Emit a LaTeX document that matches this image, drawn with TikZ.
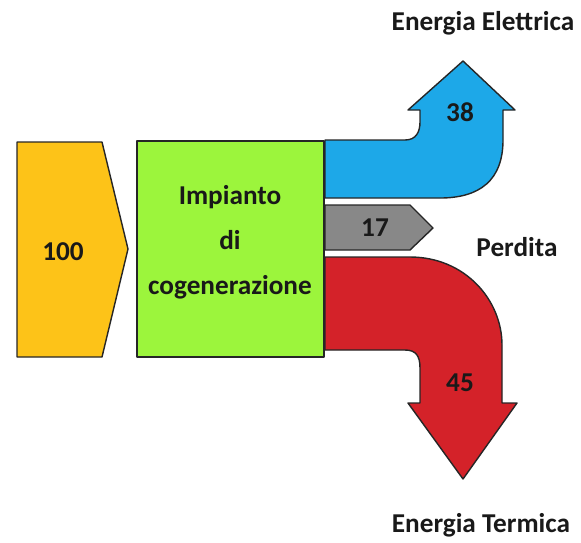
\documentclass[tikz,border=0pt]{standalone}
\usepackage{fontspec}
\setmainfont{Carlito}
\definecolor{input}{HTML}{FDC318}
\definecolor{plant}{HTML}{9CF53C}
\definecolor{elec}{HTML}{1DA8E8}
\definecolor{loss}{HTML}{888888}
\definecolor{heat}{HTML}{D42229}
\tikzset{flow/.style={draw=black!85,line width=.8pt,line join=round},
	lbl/.style={font=\bfseries\fontsize{15.5}{18}\selectfont,text=black!90}}

\begin{document}
\begin{tikzpicture}[x=0.02cm,y=-0.02cm]
	 \useasboundingbox (0,0) rectangle (581,542);

	 \draw[flow,fill=input](17,142) -- (102,142) -- (128,249) -- (102,357) -- (17,357) -- cycle;
	 \node[lbl](input) at (63,252){100};

	 \node[flow,fill=plant,minimum width=3.74cm,minimum height=4.32cm,inner sep=0pt](plant) at (230.5,249){};
	 \node[lbl,align=center,font=\bfseries\fontsize{15.5}{25.5}\selectfont](plant-text) at (230,242){Impianto\\di\\cogenerazione};

	 \draw[flow,fill=elec](325,140) -- (405,140) .. controls (416,140) and (420,132) .. (420,122)
		-- (420,110) -- (408,110) -- (463,61) -- (515,110) -- (503,110) -- (503,140)
		.. controls (503,180) and (480,198) .. (440,198) -- (325,198) -- cycle;
	 \node[lbl](elec) at (460,112){38};

	 \draw[flow,fill=loss](325,205) -- (410,205) -- (433,228) -- (410,250) -- (325,250) -- cycle;
	 \node[lbl](loss) at (375,228){17};

	 \draw[flow,fill=heat](325,257) -- (410,257) .. controls (465,257) and (502,300) .. (502,345)
		-- (502,403) -- (517,403) -- (463,479) -- (408,403) -- (420,403) -- (420,368)
		.. controls (420,356) and (416,350) .. (405,350) -- (325,350) -- cycle;
	 \node[lbl](heat) at (460,383){45};

	 \node[lbl](elec-name) at (483,23){Energia Elettrica};
	 \node[lbl](loss-name) at (517,247){Perdita};
	 \node[lbl](heat-name) at (481,525){Energia Termica};

\end{tikzpicture}
\end{document}
